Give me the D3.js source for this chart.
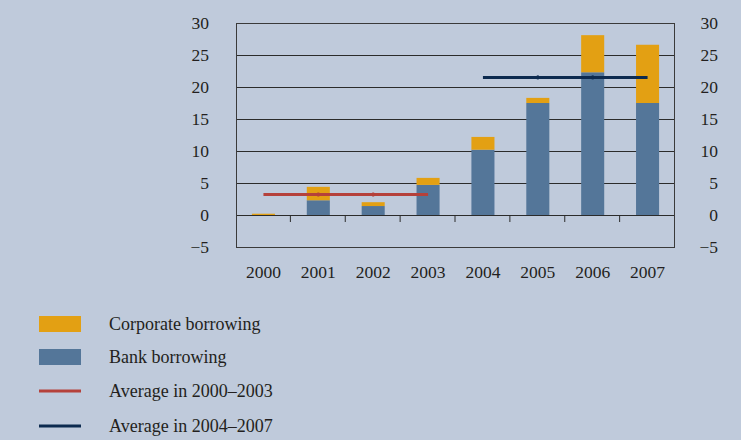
<!DOCTYPE html>
<html><head><meta charset="utf-8">
<script src="https://cdn.jsdelivr.net/npm/d3@7"></script>
<style>
html,body{margin:0;padding:0;background:#bfcadb;}
svg{display:block;}
text{font-family:"Liberation Serif","DejaVu Serif",serif;fill:#231f20;}
</style></head>
<body>
<svg id="chart" width="741" height="440"></svg>
<script>
const years = ["2000","2001","2002","2003","2004","2005","2006","2007"];
const bankBorrowing = [0, 2.3, 1.4, 4.7, 10.2, 17.5, 22.3, 17.5];
const corporateBorrowing = [0.2, 2.1, 0.6, 1.1, 2.0, 0.8, 5.8, 9.1];
const avgEarly = {from:"2000", to:"2003", value:3.2};
const avgLate = {from:"2004", to:"2007", value:21.5};
const yTicks = [-5, 0, 5, 10, 15, 20, 25, 30];
const legendItems = [
  {label:"Corporate borrowing", type:"rect", color:"#e3a013"},
  {label:"Bank borrowing", type:"rect", color:"#547699"},
  {label:"Average in 2000\u20132003", type:"line", color:"#b5413b"},
  {label:"Average in 2004\u20132007", type:"line", color:"#0c2a4f"}
];

const svg = d3.select("#chart");
const L = 236, R = 675, T = 23, B = 247;
const x = d3.scaleBand().domain(years).range([L, R]).paddingInner(0).paddingOuter(0);
const y = d3.scaleLinear().domain([-5, 30]).range([B, T]);
const fmt = d => d < 0 ? "\u2212" + Math.abs(d) : String(d);

// gridlines
svg.append("g").selectAll("line").data(yTicks.filter(d => d > -5 && d !== 0)).join("line")
  .attr("x1", L).attr("x2", R).attr("y1", d => y(d)+0.5).attr("y2", d => y(d)+0.5)
  .attr("stroke", "#2b2b2b").attr("stroke-width", 1);

// bars
const stack = years.map((yr,i)=>({yr, bank:bankBorrowing[i], corp:corporateBorrowing[i]}));
const bw = x.bandwidth()*0.42;
const off = (x.bandwidth()-bw)/2;
svg.append("g").selectAll("rect").data(stack).join("rect")
  .attr("x", d => x(d.yr)+off).attr("width", bw)
  .attr("y", d => y(d.bank)).attr("height", d => y(0)-y(d.bank))
  .attr("fill", "#547699");
svg.append("g").selectAll("rect").data(stack).join("rect")
  .attr("x", d => x(d.yr)+off).attr("width", bw)
  .attr("y", d => y(d.bank+d.corp)).attr("height", d => y(d.bank)-y(d.bank+d.corp))
  .attr("fill", "#e3a013");

// zero line
svg.append("line").attr("x1", L).attr("x2", R).attr("y1", y(0)+0.5).attr("y2", y(0)+0.5)
  .attr("stroke", "#2b2b2b").attr("stroke-width", 1);
// category ticks below zero
svg.append("g").selectAll("line").data(years.slice(1).concat(["end"])).join("line")
  .attr("x1", d => (d==="end"? R : x(d))-0.5).attr("x2", d => (d==="end"? R : x(d))-0.5)
  .attr("y1", y(0)).attr("y2", y(0)+7)
  .attr("stroke", "#2b2b2b").attr("stroke-width", 1);

// plot frame
svg.append("rect").attr("x", L+0.5).attr("y", T+0.5).attr("width", R-L-1).attr("height", B-T)
  .attr("fill", "none").attr("stroke", "#3a3a3a").attr("stroke-width", 1);

// average lines
[ [avgEarly, "#b5413b", ["2001","2002"]], [avgLate, "#0c2a4f", ["2005","2006"]] ].forEach(([a, c, yrs]) => {
  const cx = d => x(d)+x.bandwidth()/2;
  svg.append("line").attr("x1", cx(a.from)).attr("x2", cx(a.to))
    .attr("y1", y(a.value)).attr("y2", y(a.value))
    .attr("stroke", c).attr("stroke-width", 3);
  svg.append("g").selectAll("rect").data(yrs).join("rect")
    .attr("x", d => cx(d)-1).attr("y", y(a.value)-2).attr("width", 2).attr("height", 4)
    .attr("fill", c);
});

// axes labels
const axL = svg.append("g").attr("transform", "translate(209,0)");
axL.selectAll("text").data(yTicks).join("text")
  .attr("x", 0).attr("y", d => y(d)).attr("dy", "0.35em").attr("text-anchor", "end")
  .attr("font-size", 17.5).text(fmt);
const axR = svg.append("g").attr("transform", "translate(718,0)");
axR.selectAll("text").data(yTicks).join("text")
  .attr("x", 0).attr("y", d => y(d)).attr("dy", "0.35em").attr("text-anchor", "end")
  .attr("font-size", 17.5).text(fmt);
svg.append("g").selectAll("text").data(years).join("text")
  .attr("x", d => x(d)+x.bandwidth()/2).attr("y", 278).attr("text-anchor", "middle")
  .attr("font-size", 17.5).text(d => d);

// legend
const lg = svg.append("g");
const rowsY = [324, 357, 391, 426];
legendItems.forEach((it, i) => {
  const cy = rowsY[i];
  if (it.type === "rect") {
    lg.append("rect").attr("x", 39).attr("y", cy-8).attr("width", 42).attr("height", 16).attr("fill", it.color);
  } else {
    lg.append("line").attr("x1", 39).attr("x2", 81).attr("y1", cy).attr("y2", cy)
      .attr("stroke", it.color).attr("stroke-width", 3);
  }
  lg.append("text").attr("x", 109).attr("y", cy).attr("dy", "0.32em").attr("font-size", 18).text(it.label);
});
</script>
</body></html>
